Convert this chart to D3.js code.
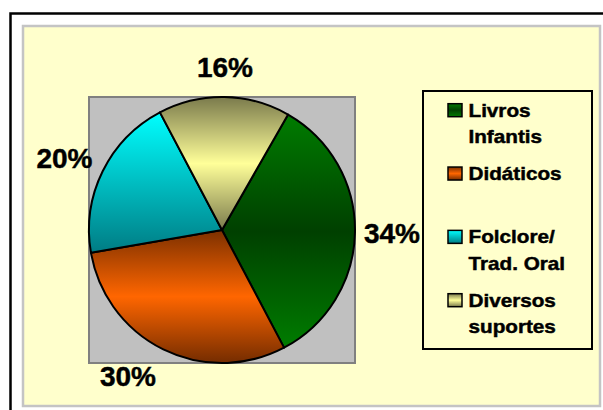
<!DOCTYPE html>
<html>
<head>
<meta charset="utf-8">
<script src="https://cdn.jsdelivr.net/npm/d3@7/dist/d3.min.js"></script>
<style>
  html, body { margin: 0; padding: 0; background: #ffffff; }
  svg { display: block; }
  text { font-family: "Liberation Sans", Arial, sans-serif; font-weight: bold; fill: #000; stroke: #000; stroke-width: 0.45px; }
</style>
</head>
<body>
<svg id="chart" width="603" height="410"></svg>
<script>
// ---- data ----
const categories = ["Livros Infantis", "Didáticos", "Folclore/ Trad. Oral", "Diversos suportes"];
const legendLines = [["Livros", "Infantis"], ["Didáticos"], ["Folclore/", "Trad. Oral"], ["Diversos", "suportes"]];
const values = [34, 30, 20, 16];
const pctLabels = ["34%", "30%", "20%", "16%"];

// ---- styling ----
const gradStops = [
  [["0", "#007c00"], ["0.5", "#004000"], ["1", "#007c00"]],
  [["0", "#7c3000"], ["0.5", "#ff6600"], ["1", "#742c00"]],
  [["0", "#00ffff"], ["1", "#007c84"]],
  [["0", "#7a7a4c"], ["0.5", "#ffff99"], ["1", "#7a7a4c"]]
];
const labelNudgeX = [0, -19, -5, 0];

const W = 603, H = 410;
const svg = d3.select("#chart");
const defs = svg.append("defs");

gradStops.forEach((stops, i) => {
  const g = defs.append("linearGradient").attr("id", "g" + i)
    .attr("x1", 0).attr("y1", 0).attr("x2", 0).attr("y2", 1);
  stops.forEach(s => g.append("stop").attr("offset", s[0]).attr("stop-color", s[1]));
});

// Outer frame
svg.append("rect").attr("x", 0).attr("y", 0).attr("width", W).attr("height", H).attr("fill", "#ffffff");
svg.append("rect").attr("x", 10.5).attr("y", 13.5).attr("width", 640).attr("height", 440)
  .attr("fill", "#ffffff").attr("stroke", "#000").attr("stroke-width", 2.5);
// Chart area panel
svg.append("rect").attr("x", 23).attr("y", 26).attr("width", 577).attr("height", 380)
  .attr("fill", "#ffffcc").attr("stroke", "#c4c4c4").attr("stroke-width", 2.5);

// Plot area
const plot = { x: 89, y: 97, w: 266, h: 266 };
svg.append("rect").attr("x", plot.x).attr("y", plot.y).attr("width", plot.w).attr("height", plot.h)
  .attr("fill", "#c0c0c0").attr("stroke", "#808080").attr("stroke-width", 2);

const cx = plot.x + plot.w / 2, cy = plot.y + plot.h / 2;
const r = plot.h / 2;

const startA = 0.52;
const pie = d3.pie().sort(null).value(d => d).startAngle(startA).endAngle(startA + 2 * Math.PI);
const arcs = pie(values);
const arc = d3.arc().innerRadius(0).outerRadius(r);

const gPie = svg.append("g").attr("transform", `translate(${cx},${cy})`);
gPie.selectAll("path").data(arcs).join("path")
  .attr("d", arc)
  .attr("fill", (d, i) => `url(#g${i})`)
  .attr("stroke", "#000").attr("stroke-width", 2).attr("stroke-linejoin", "round");

// Percent labels (outside end)
const fs = 28;
const gLab = svg.append("g");
arcs.forEach((d, i) => {
  const a = (d.startAngle + d.endAngle) / 2;
  const sx = Math.sin(a), sy = -Math.cos(a);
  const t = gLab.append("text").attr("font-size", fs).attr("text-anchor", "middle").text(pctLabels[i]);
  const w = t.node().getComputedTextLength();
  const pad = 8, hw = w / 2 + 1, hh = 22;
  const x = cx + sx * (r + pad) + sx * hw + labelNudgeX[i];
  const y = cy + sy * (r + pad) + sy * hh;
  t.attr("x", x).attr("y", y + fs * 0.36);
});

// Legend
const leg = { x: 423, y: 91, w: 169, h: 258 };
svg.append("rect").attr("x", leg.x).attr("y", leg.y).attr("width", leg.w).attr("height", leg.h)
  .attr("fill", "none").attr("stroke", "#000").attr("stroke-width", 2);

const yLeg = d3.scaleLinear().domain([0, categories.length - 1]).range([116.7, 306.7]);
const lfs = 18, lineH = 26.3;
categories.forEach((c, i) => {
  const by = yLeg(i);
  svg.append("rect").attr("x", 448).attr("y", by - 13).attr("width", 14).attr("height", 13)
    .attr("fill", `url(#g${i})`).attr("stroke", "#000").attr("stroke-width", 1.5);
  const g = svg.append("g").attr("transform", `translate(468.5,${by}) scale(1.15,1)`);
  legendLines[i].forEach((ln, k) => {
    g.append("text").attr("x", 0).attr("y", k * lineH).attr("font-size", lfs).text(ln);
  });
});
</script>
</body>
</html>
